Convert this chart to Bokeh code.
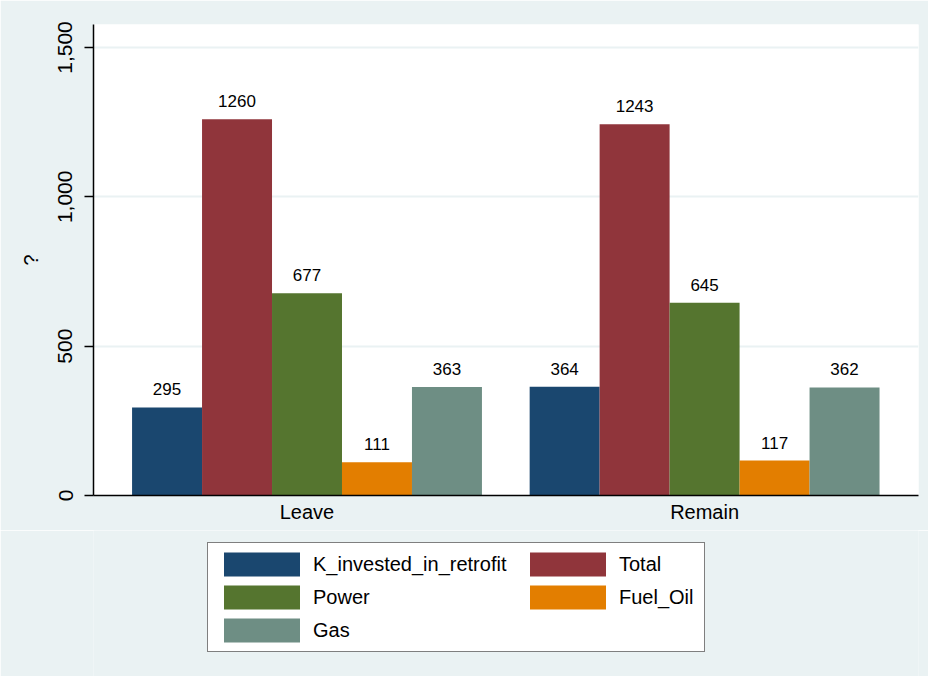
import numpy as np
from bokeh.plotting import figure
from bokeh.layouts import column
from bokeh.models import (Range1d, FixedTicker, NumeralTickFormatter, Legend,
                          LegendItem, ColumnDataSource)
from bokeh.core.properties import value
from bokeh.embed import file_html
from bokeh.resources import INLINE

# ---- data ----
groups = ["Leave", "Remain"]
series = ["K_invested_in_retrofit", "Total", "Power", "Fuel_Oil", "Gas"]
k_invested = [295, 364]
total = [1260, 1243]
power = [677, 645]
fuel_oil = [111, 117]
gas = [363, 362]
y_ticks = [0, 500, 1000, 1500]
y_title = "?"

values = [k_invested, total, power, fuel_oil, gas]
colors = ["#1a476f", "#90353b", "#55752f", "#e37e00", "#6e8e84"]

BG = "#eaf2f3"
FONT = "Liberation Sans"
bar_w = 0.176

p = figure(width=928, height=530, output_backend="svg", toolbar_location=None,
           x_range=Range1d(-0.537, 1.538), y_range=Range1d(0, 1577),
           min_border_left=93, min_border_right=10, min_border_top=24,
           min_border_bottom=35)
p.border_fill_color = BG
p.background_fill_color = "white"
p.outline_line_color = None

# ---- legend figure (holds the legend below the chart) ----
q = figure(width=928, height=146, output_backend="svg", toolbar_location=None,
           x_range=Range1d(-0.537, 1.538), y_range=Range1d(-2, -1),
           min_border_left=93, min_border_right=10, min_border_top=0,
           min_border_bottom=0)
q.border_fill_color = BG
q.background_fill_color = BG
q.outline_line_color = None
q.axis.visible = False
q.grid.visible = False

gx = np.arange(len(groups))
leg_renderers = []
for i, (name, vals, col) in enumerate(zip(series, values, colors)):
    off = (i - (len(series) - 1) / 2) * bar_w
    src = ColumnDataSource(dict(x=gx + off, top=vals,
                                lab=[str(v) for v in vals]))
    p.vbar(x="x", top="top", width=bar_w, source=src,
           fill_color=col, line_color=None)
    p.text(x="x", y="top", text="lab", source=src, text_align="center",
           text_baseline="alphabetic", y_offset=-18,
           text_font=value(FONT), text_font_size="17px", text_color="black")
    # same bars in the legend figure, hidden; only used for legend swatches
    r = q.vbar(x="x", top="top", width=bar_w, source=src,
               fill_color=col, line_color=None, visible=False)
    leg_renderers.append((name, r))

# grid
p.xgrid.visible = False
p.ygrid.ticker = FixedTicker(ticks=y_ticks)
p.ygrid.grid_line_color = BG
p.ygrid.grid_line_width = 2

# x axis
p.xaxis.ticker = FixedTicker(ticks=list(gx))
p.xaxis.major_label_overrides = {int(i): g for i, g in zip(gx, groups)}
p.xaxis.major_tick_out = 0
p.xaxis.major_tick_in = 0
p.xaxis.minor_tick_out = 0
p.xaxis.minor_tick_in = 0
p.xaxis.axis_line_color = "black"
p.xaxis.axis_line_width = 1.5
p.xaxis.major_label_standoff = 5
p.xaxis.major_label_text_font = FONT
p.xaxis.major_label_text_font_size = "20px"
p.xaxis.major_label_text_color = "black"

# y axis
p.yaxis.ticker = FixedTicker(ticks=y_ticks)
p.yaxis.formatter = NumeralTickFormatter(format="0,0")
p.yaxis.major_label_orientation = "vertical"
p.yaxis.major_tick_out = 9
p.yaxis.major_tick_in = 0
p.yaxis.minor_tick_out = 0
p.yaxis.minor_tick_in = 0
p.yaxis.axis_line_color = "black"
p.yaxis.axis_line_width = 1.5
p.yaxis.major_tick_line_color = "black"
p.yaxis.major_tick_line_width = 1.5
p.yaxis.major_label_standoff = 12
p.yaxis.major_label_text_font = FONT
p.yaxis.major_label_text_font_size = "21px"
p.yaxis.major_label_text_color = "black"
p.yaxis.axis_label = y_title
p.yaxis.axis_label_text_font = FONT
p.yaxis.axis_label_text_font_size = "20px"
p.yaxis.axis_label_text_font_style = "normal"
p.yaxis.axis_label_text_color = "black"
p.yaxis.axis_label_standoff = 14


def style(leg, boxed):
    leg.border_line_color = "black" if boxed else None
    leg.border_line_width = 1
    leg.background_fill_color = "white"
    leg.background_fill_alpha = 1 if boxed else 0
    leg.glyph_width = 95
    leg.glyph_height = 30
    leg.label_standoff = 4
    leg.spacing = 3
    leg.padding = 6
    leg.margin = 0
    leg.label_text_font = FONT
    leg.label_text_font_size = "20px"
    leg.label_text_color = "black"
    leg.label_text_baseline = "middle"


col1 = [leg_renderers[i] for i in (0, 2, 4)]
col2 = [leg_renderers[i] for i in (1, 3)]
leg_a = Legend(items=[LegendItem(label=n, renderers=[r]) for n, r in col1],
               location=(114, 24))
style(leg_a, True)
leg_a.label_width = 385
leg_b = Legend(items=[LegendItem(label=n, renderers=[r]) for n, r in col2],
               location=(427, 64))
style(leg_b, False)
q.add_layout(leg_a)
q.add_layout(leg_b)

layout = column(p, q, spacing=0)
open("out.html", "w").write(file_html(layout, INLINE))
